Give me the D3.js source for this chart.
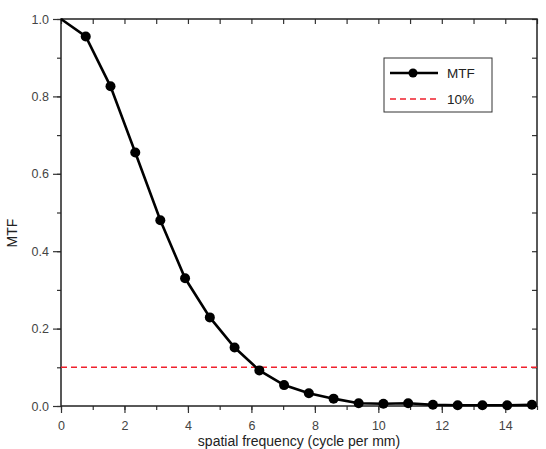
<!DOCTYPE html>
<html>
<head>
<meta charset="utf-8">
<script src="https://cdn.jsdelivr.net/npm/d3@7"></script>
<style>
  body { margin: 0; background: #fff; }
  text { font-family: "Liberation Sans", Arial, sans-serif; }
</style>
</head>
<body>
<div id="chart"></div>
<script>
// spatial frequency (cycle per mm) and MTF values
const freq = [0, 0.78, 1.56, 2.34, 3.13, 3.91, 4.69, 5.47, 6.25, 7.03,
              7.81, 8.59, 9.38, 10.16, 10.94, 11.72, 12.5, 13.28, 14.06, 14.84]
const mtf = [1.0, 0.955, 0.826, 0.655, 0.48, 0.33, 0.229, 0.151, 0.092, 0.054,
             0.033, 0.019, 0.007, 0.006, 0.007, 0.003, 0.002, 0.002, 0.002, 0.003]
const threshold = 0.1
const xTicks = [0, 2, 4, 6, 8, 10, 12, 14]
const yTicks = [0.0, 0.2, 0.4, 0.6, 0.8, 1.0]
const legendLabels = ['MTF', '10%']

const width = 546, height = 449
const margin = {left: 61, right: 9, top: 19, bottom: 43}
const red = '#f0202c'

const svg = d3.select('#chart').append('svg')
  .attr('width', width)
  .attr('height', height)

const x = d3.scaleLinear().domain([0, 15]).range([margin.left, width - margin.right])
const y = d3.scaleLinear().domain([0, 1]).range([height - margin.bottom, margin.top])

const tickColor = '#333'

// bottom axis, major + minor ticks outward
svg.append('g')
  .attr('transform', `translate(0,${y(0)})`)
  .call(d3.axisBottom(x).tickValues(d3.range(0, 16, 1)).tickSize(4).tickFormat(''))
  .call(g => g.select('.domain').remove())
svg.append('g')
  .attr('transform', `translate(0,${y(0)})`)
  .call(d3.axisBottom(x).tickValues(xTicks).tickSize(7).tickPadding(8).tickFormat(d3.format('d')))
  .call(g => g.select('.domain').remove())

// left axis
svg.append('g')
  .attr('transform', `translate(${x(0)},0)`)
  .call(d3.axisLeft(y).tickValues(d3.range(0, 1.01, 0.1)).tickSize(4).tickFormat(''))
  .call(g => g.select('.domain').remove())
svg.append('g')
  .attr('transform', `translate(${x(0)},0)`)
  .call(d3.axisLeft(y).tickValues(yTicks).tickSize(8).tickPadding(4).tickFormat(d3.format('.1f')))
  .call(g => g.select('.domain').remove())

// top and right axes with inward ticks, no labels
svg.append('g')
  .attr('transform', `translate(0,${y(1)})`)
  .call(d3.axisBottom(x).tickValues(d3.range(0, 16, 1)).tickSize(5).tickFormat(''))
  .call(g => g.select('.domain').remove())
svg.append('g')
  .attr('transform', `translate(${x(15)},0)`)
  .call(d3.axisLeft(y).tickValues(d3.range(0, 1.01, 0.1)).tickSize(5).tickFormat(''))
  .call(g => g.select('.domain').remove())

svg.selectAll('.tick line').attr('stroke', tickColor).attr('stroke-width', 1.2)
svg.selectAll('.tick text').attr('fill', '#444').style('font-size', '12.5px')

// frame
svg.append('rect')
  .attr('x', x(0)).attr('y', y(1))
  .attr('width', x(15) - x(0)).attr('height', y(0) - y(1))
  .attr('fill', 'none').attr('stroke', '#222').attr('stroke-width', 1.5)

// 10% line
svg.append('line')
  .attr('x1', x(0)).attr('x2', x(15))
  .attr('y1', y(threshold)).attr('y2', y(threshold))
  .attr('stroke', red).attr('stroke-width', 1.5)
  .attr('stroke-dasharray', '6,4')

// MTF curve
const pts = freq.map((f, i) => [f, mtf[i]])
svg.append('path')
  .datum(pts)
  .attr('fill', 'none')
  .attr('stroke', '#000')
  .attr('stroke-width', 2.6)
  .attr('d', d3.line().x(d => x(d[0])).y(d => y(d[1])))

svg.selectAll('circle.pt')
  .data(pts.slice(1))
  .join('circle')
  .attr('class', 'pt')
  .attr('cx', d => x(d[0]))
  .attr('cy', d => y(d[1]))
  .attr('r', 5)
  .attr('fill', '#000')

// axis titles
svg.append('text')
  .attr('transform', `translate(17,233) rotate(-90)`)
  .attr('text-anchor', 'middle')
  .style('font-size', '14px')
  .attr('fill', '#222')
  .text('MTF')

svg.append('text')
  .attr('x', (x(0) + x(15)) / 2)
  .attr('y', 446)
  .attr('text-anchor', 'middle')
  .style('font-size', '14px')
  .attr('fill', '#222')
  .text('spatial frequency (cycle per mm)')

// legend
const lg = svg.append('g').attr('transform', 'translate(384,58)')
lg.append('rect')
  .attr('width', 108).attr('height', 54)
  .attr('fill', '#fff').attr('stroke', '#333').attr('stroke-width', 1)
lg.append('line')
  .attr('x1', 6).attr('x2', 54).attr('y1', 15).attr('y2', 15)
  .attr('stroke', '#000').attr('stroke-width', 2.6)
lg.append('circle').attr('cx', 29).attr('cy', 15).attr('r', 4.5).attr('fill', '#000')
lg.append('line')
  .attr('x1', 6).attr('x2', 54).attr('y1', 41).attr('y2', 41)
  .attr('stroke', red).attr('stroke-width', 1.5)
  .attr('stroke-dasharray', '6,4')
legendLabels.forEach((t, i) => {
  lg.append('text')
    .attr('x', 63).attr('y', 15 + i * 26)
    .attr('dy', '0.35em')
    .style('font-size', '13.5px')
    .attr('fill', '#222')
    .text(t)
})
</script>
</body>
</html>
